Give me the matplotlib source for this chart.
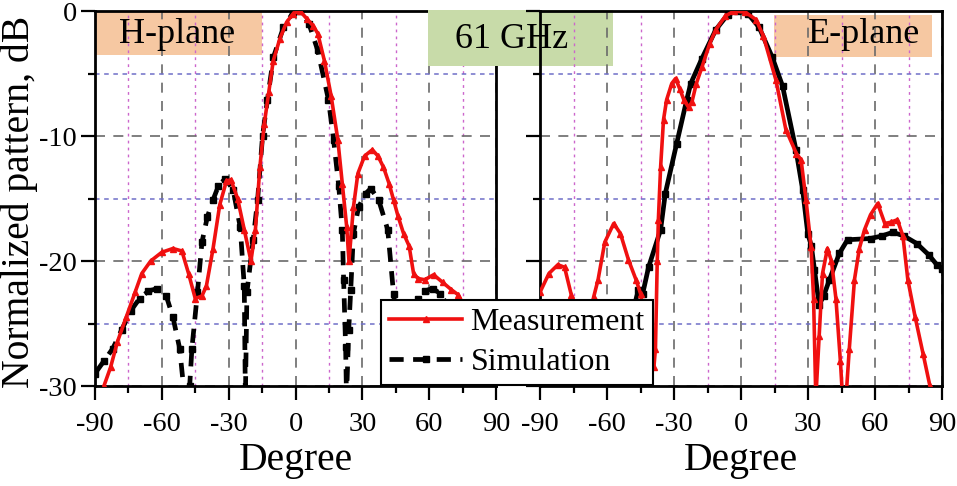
import matplotlib
matplotlib.use('Agg')
import matplotlib.pyplot as plt
from matplotlib.patches import Rectangle

plt.rcParams['font.family'] = ['Liberation Serif', 'DejaVu Serif']
plt.rcParams['axes.unicode_minus'] = False

# H-plane, measurement
h_meas_deg = [-86, -83, -80, -76, -72, -69, -65, -60, -55, -51, -48, -45, -42, -40, -37, -34,
              -31, -29, -26, -23, -20, -18, -16, -14, -12, -10, -7, -4, -1, 2, 5, 8, 10, 13,
              16, 19, 21, 23, 24, 26, 28, 31, 34.5, 37, 39.5, 42, 44, 46, 48.5, 51, 53, 55,
              58, 62, 66, 70, 73, 77, 82, 88]
h_meas_db = [-30.0, -28.5, -26.5, -24.5, -22.5, -21.0, -20.0, -19.3, -19.0, -19.2, -21.0, -23.0,
             -22.8, -22.0, -19.0, -15.5, -13.6, -13.5, -15.0, -17.5, -20.0, -17.5, -12.5, -9.0,
             -6.5, -4.0, -2.2, -0.9, -0.2, 0.0, -0.6, -1.2, -1.8, -4.0, -6.8, -10.3, -13.8,
             -17.3, -20.0, -15.7, -13.0, -11.6, -11.1, -11.6, -12.5, -13.8, -15.1, -16.4, -17.8,
             -18.8, -21.0, -21.4, -21.5, -21.1, -21.7, -22.3, -22.7, -24.0, -25.5, -27.0]

# H-plane, simulation
h_sim_deg = [-90, -86, -82, -78, -74, -70, -66, -62, -58, -55, -52, -50, -49, -47.5, -46.5, -44,
             -42, -39.6, -37, -34.6, -31.5, -28, -24.8, -23, -22.5, -21.8, -19, -17, -14.8,
             -12.6, -9.9, -5.4, -1, 2.2, 6, 9.9, 14.8, 17.1, 19.4, 21, 21.6, 22.5, 22.9, 23.9,
             24.8, 26, 28.3, 31.5, 33.8, 37.3, 41.4, 44, 47, 50, 55, 58, 61.5, 65, 68, 72, 80, 90]
h_sim_db = [-29.0, -28.0, -27.0, -25.5, -24.0, -23.0, -22.4, -22.2, -22.8, -24.5, -27.0, -30.5,
            -33.0, -30.0, -27.0, -22.5, -18.5, -16.5, -15.1, -14.0, -13.4, -14.3, -17.3, -22.0,
            -31.0, -22.5, -18.3, -15.1, -10.0, -7.1, -3.7, -1.3, -0.1, 0.0, -1.0, -3.1, -7.1,
            -10.3, -14.0, -17.5, -21.5, -26.9, -31.0, -25.5, -22.3, -17.8, -15.7, -14.6, -14.2,
            -15.1, -17.5, -22.6, -27.0, -25.0, -23.0, -22.4, -22.2, -22.6, -23.5, -25.0, -27.0,
            -28.0]

# E-plane, measurement
e_meas_deg = [-90, -86, -82, -79, -76, -73, -70, -67, -66, -64, -61, -57, -54, -50.4, -47, -45,
              -43, -41, -39, -38.3, -37.5, -37, -36, -34.7, -33.3, -31, -29.3, -27.5, -25.6,
              -23.5, -22, -20, -17.5, -14, -11.3, -7, -3, 2, 6.8, 10, 15.6, 20.1, 24.8, 26.9,
              29.1, 31.4, 32.5, 33.5, 35, 36.5, 38.7, 40.5, 42.5, 44.5, 45.5, 47, 48.5, 50.8,
              53, 55.3, 58, 61.2, 64.4, 67, 70, 72.5, 74.7, 78, 81.5, 84.6, 87]
e_meas_db = [-22.5, -21.0, -20.3, -20.5, -22.7, -25.0, -27.0, -24.0, -22.9, -21.5, -18.5, -17.0,
             -17.8, -19.9, -21.5, -22.6, -25.0, -28.0, -28.5, -27.0, -20.0, -16.7, -12.5, -8.7,
             -7.1, -5.8, -5.4, -6.2, -7.1, -7.7, -7.3, -5.8, -4.5, -2.6, -1.5, -0.4, 0.0, -0.1,
             -0.7, -2.0, -5.5, -9.5, -11.4, -11.9, -15.1, -18.9, -23.0, -31.0, -26.0, -21.0,
             -19.0, -20.0, -23.0, -28.0, -31.0, -31.0, -27.0, -21.5, -19.0, -17.5, -16.3, -15.4,
             -17.0, -16.9, -16.7, -18.0, -21.5, -24.5, -27.4, -30.0, -31.0]

# E-plane, simulation
e_sim_deg = [-90, -70, -55, -48, -46, -44, -41.4, -36, -33.9, -28.8, -24.3, -22.5, -17.5, -11.3,
             -6, -2, 3, 8.1, 14, 18.6, 24.6, 27.6, 29.9, 31.5, 32.9, 35, 37, 39.6, 44, 47.7, 58,
             63, 68, 73, 78.7, 84, 87.7, 90]
e_sim_db = [-28.0, -27.0, -25.5, -23.8, -22.3, -22.6, -20.5, -17.5, -14.6, -10.6, -7.1, -5.8,
            -3.8, -1.5, -0.3, 0.0, -0.2, -1.3, -3.7, -6.0, -11.1, -14.3, -17.8, -18.8, -20.7,
            -23.5, -22.8, -21.5, -19.4, -18.3, -18.2, -18.0, -17.7, -18.0, -18.6, -19.5, -20.3,
            -20.6]

W, H = 957, 486
fig = plt.figure(figsize=(W / 100, H / 100), dpi=100)


def px_rect(x0, y0, x1, y1):
    # pixel box (top-left origin) -> figure fraction [left, bottom, width, height]
    return [x0 / W, 1 - y1 / H, (x1 - x0) / W, (y1 - y0) / H]


ax1 = fig.add_axes(px_rect(95, 11, 496, 386))
ax2 = fig.add_axes(px_rect(540, 11, 942, 386))
ax2.set_zorder(1)
ax2.patch.set_facecolor('none')

for ax in (ax1, ax2):
    ax.set_xlim(-90, 90)
    ax.set_ylim(-30, 0)
    ax.set_xticks(range(-90, 91, 30))
    ax.set_xticks(range(-75, 90, 30), minor=True)
    ax.set_yticks([-30, -20, -10, 0])
    ax.set_yticks([-25, -15, -5], minor=True)
    ax.tick_params(which='major', direction='out', length=10, width=1.6,
                   labelsize=20.5, pad=3, top=False, right=False)
    ax.tick_params(axis='x', which='major', pad=9)
    ax.tick_params(which='minor', direction='out', length=5, width=1.6,
                   top=False, right=False)
    ax.set_axisbelow(True)
    ax.xaxis.grid(True, which='major', color='#6a6a6a', lw=1.2, ls=(0, (6, 5)))
    ax.yaxis.grid(True, which='major', color='#6a6a6a', lw=1.2, ls=(0, (6, 5)))
    ax.xaxis.grid(True, which='minor', color='#cc66cc', lw=1.0, ls=(0, (2, 3)))
    ax.yaxis.grid(True, which='minor', color='#6f6fc8', lw=1.1, ls=(0, (3, 3)))
    for s in ax.spines.values():
        s.set_linewidth(2.0)
    ax.set_xlabel('Degree', fontsize=28.5, labelpad=3)

ax2.tick_params(labelleft=False)

red_kw = dict(color='#f01010', lw=2.6, marker='^', ms=5, zorder=3)
blk_kw = dict(color='black', lw=3.4, marker='s', ms=4.5, zorder=2)

ln_meas, = ax1.plot(h_meas_deg, h_meas_db, **red_kw)
ln_sim, = ax1.plot(h_sim_deg, h_sim_db, ls=(0, (3, 2)), **blk_kw)
ax2.plot(e_meas_deg, e_meas_db, **red_kw)
ax2.plot(e_sim_deg, e_sim_db, ls='-', **blk_kw)

# plane labels
ax1.add_patch(Rectangle((-89.5, -3.5), 74.6, 3.5, facecolor='#f6c8a2', edgecolor='none', zorder=0.3))
ax1.text(-53, -1.85, 'H-plane', fontsize=26, ha='center', va='center', zorder=4)
ax2.add_patch(Rectangle((14.8, -3.7), 70.7, 3.4, facecolor='#f6c8a2', edgecolor='none', zorder=0.3))
ax2.text(55, -1.85, 'E-plane', fontsize=26, ha='center', va='center', zorder=4)

# frequency tag sits between the two panels
fig.patches.append(Rectangle((428 / W, 1 - 66 / H), 185 / W, 56 / H, transform=fig.transFigure,
                             facecolor='#c8dba9', edgecolor='none', zorder=0.5))
fig.text(512 / W, 1 - 40 / H, '61 GHz', fontsize=26, ha='center', va='center', zorder=0.6)

fig.text(19 / W, 1 - 388 / H, 'Normalized pattern, dB', fontsize=28.5, rotation=90,
         ha='center', va='bottom')

leg = fig.legend([ln_meas, ln_sim], ['Measurement', 'Simulation'], loc='lower left',
                 bbox_to_anchor=(381 / W, 1 - 385 / H), borderaxespad=0, fontsize=23,
                 handlelength=2.3, handletextpad=0.25, labelspacing=0.32, borderpad=0.25,
                 fancybox=False, framealpha=1, edgecolor='black')
leg.get_frame().set_linewidth(1.5)

fig.savefig('out.png', dpi=100)
